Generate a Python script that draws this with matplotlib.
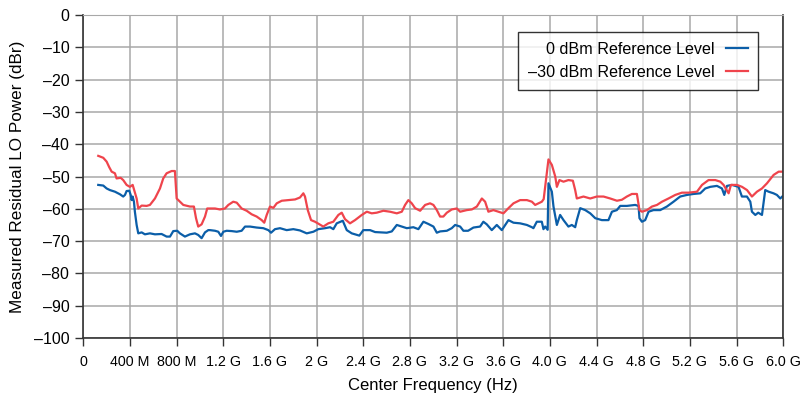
import matplotlib.pyplot as plt

# residual LO power vs. center frequency (GHz, dBr)
freq_0dbm = [0.129, 0.172, 0.201, 0.229, 0.272, 0.315, 0.343, 0.358, 0.372, 0.395,
             0.407, 0.415, 0.424, 0.435, 0.443, 0.458, 0.472, 0.501, 0.529, 0.572,
             0.615, 0.672, 0.715, 0.744, 0.772, 0.806, 0.829, 0.872, 0.915, 0.958,
             0.986, 1.015, 1.044, 1.072, 1.087, 1.130, 1.158, 1.181, 1.201, 1.230,
             1.273, 1.316, 1.358, 1.387, 1.430, 1.487, 1.544, 1.587, 1.610, 1.644,
             1.687, 1.744, 1.801, 1.858, 1.916, 1.973, 2.015, 2.073, 2.116, 2.144,
             2.173, 2.225, 2.259, 2.302, 2.367, 2.401, 2.459, 2.502, 2.602, 2.645,
             2.688, 2.731, 2.774, 2.830, 2.873, 2.916, 2.959, 3.002, 3.031, 3.059,
             3.117, 3.159, 3.188, 3.231, 3.259, 3.299, 3.345, 3.402, 3.430, 3.459,
             3.502, 3.545, 3.588, 3.617, 3.645, 3.688, 3.745, 3.803, 3.846, 3.859,
             3.888, 3.931, 3.945, 3.960, 3.981, 3.988, 4.017, 4.031, 4.060, 4.088,
             4.117, 4.159, 4.188, 4.217, 4.231, 4.260, 4.303, 4.346, 4.389, 4.446,
             4.502, 4.532, 4.574, 4.603, 4.660, 4.731, 4.760, 4.768, 4.789, 4.817,
             4.846, 4.888, 4.946, 5.003, 5.060, 5.117, 5.175, 5.231, 5.289, 5.332,
             5.375, 5.432, 5.475, 5.495, 5.518, 5.561, 5.617, 5.646, 5.689, 5.718,
             5.732, 5.761, 5.786, 5.818, 5.846, 5.875, 5.917, 5.946, 5.975, 5.992]
level_0dbm = [-52.6, -52.8, -53.7, -54.2, -54.7, -55.5, -56.2, -55.7, -54.5, -54.4,
              -55.7, -57.3, -56.2, -57.8, -60.9, -65.0, -67.6, -67.3, -67.9, -67.6,
              -67.9, -67.8, -68.6, -68.6, -66.9, -66.8, -67.6, -68.6, -67.9, -67.6,
              -68.1, -69.1, -67.3, -66.6, -66.6, -66.8, -67.1, -68.4, -67.1, -66.8,
              -66.9, -67.1, -66.8, -65.5, -65.5, -65.8, -66.0, -66.6, -67.4, -66.3,
              -66.0, -66.6, -66.3, -66.7, -67.6, -67.1, -66.3, -66.0, -65.7, -66.3,
              -64.5, -63.7, -66.6, -67.6, -68.3, -66.6, -66.6, -67.2, -67.4, -67.0,
              -65.0, -65.5, -66.0, -65.7, -66.3, -64.0, -64.7, -65.5, -67.4, -67.0,
              -66.8, -66.0, -65.0, -65.5, -66.8, -66.8, -65.8, -65.5, -64.0, -64.8,
              -66.6, -65.0, -66.6, -65.0, -63.5, -64.3, -64.5, -65.0, -65.7, -66.0,
              -64.0, -64.0, -66.3, -65.5, -66.5, -52.1, -54.7, -59.3, -65.0, -61.9,
              -63.5, -65.5, -65.0, -65.7, -63.5, -59.8, -60.4, -61.4, -62.9, -63.5,
              -63.5, -60.9, -60.4, -59.1, -59.1, -58.8, -59.1, -62.9, -64.0, -63.5,
              -60.9, -60.4, -60.4, -59.3, -57.8, -56.2, -55.7, -55.4, -55.2, -53.7,
              -53.2, -52.9, -53.7, -55.7, -52.9, -52.6, -53.2, -56.2, -56.2, -57.8,
              -60.9, -61.9, -61.2, -61.9, -54.2, -54.7, -55.2, -55.7, -56.8, -56.2]

freq_30dbm = [0.129, 0.172, 0.201, 0.223, 0.244, 0.272, 0.286, 0.321, 0.343, 0.372,
              0.400, 0.424, 0.437, 0.458, 0.472, 0.501, 0.544, 0.572, 0.615, 0.658,
              0.686, 0.715, 0.758, 0.786, 0.801, 0.815, 0.858, 0.915, 0.949, 0.967,
              0.986, 1.015, 1.044, 1.063, 1.087, 1.130, 1.172, 1.215, 1.244, 1.286,
              1.316, 1.358, 1.401, 1.444, 1.487, 1.530, 1.552, 1.573, 1.601, 1.630,
              1.659, 1.702, 1.758, 1.816, 1.858, 1.887, 1.901, 1.925, 1.953, 1.987,
              2.058, 2.101, 2.144, 2.187, 2.216, 2.244, 2.287, 2.330, 2.388, 2.431,
              2.473, 2.516, 2.573, 2.630, 2.688, 2.731, 2.759, 2.787, 2.816, 2.845,
              2.888, 2.931, 2.973, 3.002, 3.031, 3.059, 3.087, 3.117, 3.159, 3.202,
              3.231, 3.288, 3.331, 3.374, 3.417, 3.445, 3.473, 3.516, 3.559, 3.602,
              3.645, 3.688, 3.745, 3.803, 3.846, 3.874, 3.902, 3.931, 3.947, 3.974,
              3.988, 4.017, 4.046, 4.060, 4.082, 4.117, 4.159, 4.197, 4.217, 4.231,
              4.288, 4.346, 4.403, 4.460, 4.517, 4.575, 4.617, 4.660, 4.703, 4.746,
              4.768, 4.789, 4.832, 4.875, 4.918, 4.961, 5.017, 5.075, 5.132, 5.189,
              5.261, 5.304, 5.360, 5.418, 5.461, 5.489, 5.532, 5.552, 5.604, 5.647,
              5.690, 5.732, 5.775, 5.818, 5.861, 5.918, 5.961, 5.990]
level_30dbm = [-43.6, -44.2, -45.4, -47.1, -48.5, -49.0, -50.6, -50.4, -51.1, -52.6,
               -53.2, -52.6, -54.2, -56.8, -59.9, -59.0, -59.1, -58.8, -56.8, -53.7,
               -50.6, -49.0, -48.3, -48.3, -56.8, -57.3, -58.8, -59.3, -59.3, -62.9,
               -65.5, -64.8, -62.4, -59.9, -59.9, -59.9, -60.2, -59.9, -58.8, -57.8,
               -58.1, -59.9, -60.6, -61.7, -62.4, -63.5, -64.3, -61.9, -59.3, -59.7,
               -58.3, -57.5, -57.3, -57.1, -56.5, -55.2, -56.2, -60.4, -63.5, -64.0,
               -65.5, -64.5, -64.0, -61.9, -61.2, -63.2, -64.5, -63.5, -61.9, -60.9,
               -61.4, -61.2, -60.6, -60.9, -61.4, -60.9, -58.8, -57.3, -58.3, -59.8,
               -60.6, -58.8, -58.3, -58.8, -60.4, -62.4, -62.4, -61.2, -60.2, -59.9,
               -60.9, -60.4, -60.2, -59.3, -56.8, -57.8, -60.9, -60.4, -60.9, -61.4,
               -59.8, -58.3, -57.3, -57.3, -57.8, -58.8, -58.3, -57.8, -57.0, -49.0,
               -44.7, -46.4, -50.0, -53.2, -51.1, -51.6, -51.1, -51.3, -54.2, -56.8,
               -56.2, -56.8, -56.2, -56.2, -56.8, -57.5, -57.2, -56.2, -55.4, -55.4,
               -60.4, -60.9, -60.4, -59.3, -58.8, -57.8, -56.8, -55.7, -55.0, -55.0,
               -54.7, -52.6, -51.1, -51.1, -51.6, -52.6, -55.2, -52.6, -52.6, -53.2,
               -54.2, -56.2, -54.7, -53.7, -52.1, -49.5, -48.5, -48.5]

x_ticks = [0, 0.4, 0.8, 1.2, 1.6, 2.0, 2.4, 2.8, 3.2, 3.6, 4.0, 4.4, 4.8, 5.2, 5.6, 6.0]
x_labels = ['0', '400 M', '800 M', '1.2 G', '1.6 G', '2 G', '2.4 G', '2.8 G', '3.2 G',
            '3.6 G', '4.0 G', '4.4 G', '4.8 G', '5.2 G', '5.6 G', '6.0 G']
y_ticks = list(range(-100, 1, 10))

plt.rcParams['font.family'] = ['Liberation Sans', 'DejaVu Sans']

fig = plt.figure(figsize=(8, 3.96), dpi=100)
ax = fig.add_axes([0.104, 0.1465, 0.875, 0.8155])

ax.plot(freq_0dbm, level_0dbm, color='#0b5ea8', lw=1.6, label='0 dBm Reference Level')
ax.plot(freq_30dbm, level_30dbm, color='#ef444c', lw=1.6, label='\u201330 dBm Reference Level')

ax.set_xlim(0, 6.0)
ax.set_ylim(-100, 0)
ax.set_xticks(x_ticks)
ax.set_xticklabels(x_labels)
ax.set_yticks(y_ticks)
ax.set_yticklabels([str(v).replace('-', '\u2013') for v in y_ticks])
ax.tick_params(axis='both', direction='out', length=6, width=1, color='#333333',
               labelsize=11.5, pad=4)
ax.tick_params(axis='x', labelsize=10.3, pad=6)

ax.grid(True, color='#a8a8a8', lw=1.1)
ax.set_axisbelow(True)
for side in ['left', 'bottom', 'right']:
    ax.spines[side].set_color('#333333')
    ax.spines[side].set_linewidth(1.2)
ax.spines['top'].set_color('#a8a8a8')

ax.set_xlabel('Center Frequency (Hz)', fontsize=12, labelpad=7)
ax.set_ylabel('Measured Residual LO Power (dBr)', fontsize=12.3, labelpad=6)

leg = ax.legend(loc='upper right', bbox_to_anchor=(0.964, 0.947), markerfirst=False,
                fontsize=11.6, frameon=True, fancybox=False, borderaxespad=0,
                handlelength=1.4, handletextpad=0.7, borderpad=0.6, labelspacing=0.5)
leg.get_frame().set_edgecolor('black')
leg.get_frame().set_linewidth(1.0)
for t in leg.get_texts():
    t.set_ha('right')

fig.savefig('out.png', dpi=100)
